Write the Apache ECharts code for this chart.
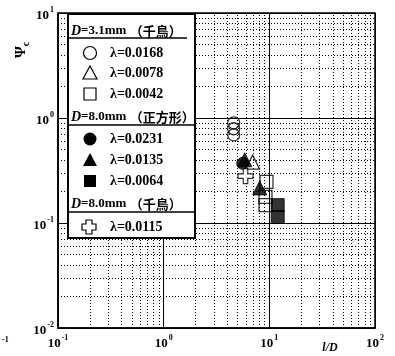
<!DOCTYPE html>
<html><head><meta charset="utf-8">
<script src="https://cdn.jsdelivr.net/npm/echarts@6/dist/echarts.min.js"></script>
<style>html,body{margin:0;padding:0;background:#fff}#c{width:395px;height:356px}</style>
</head><body><div id="c"></div>
<script>
// Data (l/D, Psi_c)
const d31_l0168_x = [4.6, 4.6, 4.6];
const d31_l0168_y = [0.90, 0.79, 0.69];
const d31_l0078_x = [6.95];
const d31_l0078_y = [0.38];
const d31_l0042_x = [9.4, 9.2, 9.2];
const d31_l0042_y = [0.246, 0.177, 0.148];
const d80s_l0231_x = [5.6];
const d80s_l0231_y = [0.37];
const d80s_l0135_x = [5.85, 8.1];
const d80s_l0135_y = [0.40, 0.216];
const d80s_l0064_x = [12.0, 12.0];
const d80s_l0064_y = [0.148, 0.114];
const d80z_l0115_x = [5.95];
const d80z_l0115_y = [0.28];
// minor grid positions
const xMinor = [0.2,0.3,0.4,0.5,0.6,0.7,0.8,0.9, 2,3,4,5,6,7,8,9, 20,30,40,50,60,70,80,90];
const yMinor = [0.02,0.03,0.04,0.05,0.06,0.07,0.08,0.09, 0.2,0.3,0.4,0.5,0.6,0.7,0.8,0.9, 2,3,4,5,6,7,8,9];
const legendLambda = ['λ=0.0168','λ=0.0078','λ=0.0042','λ=0.0231','λ=0.0135','λ=0.0064','λ=0.0115'];
const legendHeaders = ['=3.1mm ','=8.0mm ','=8.0mm '];
const legendGroups = ['（千鳥）','（正方形）','（千鳥）'];

function pts(xs, ys){ return xs.map((x,i)=>[x, ys[i]]); }
const SERIF = '"Liberation Serif","DejaVu Serif",serif';
const CJK = '"Noto Sans CJK JP","Noto Sans CJK SC",sans-serif';
const plusPath = 'path://M3.5,0 H6.5 V3.5 H10 V6.5 H6.5 V10 H3.5 V6.5 H0 V3.5 H3.5 Z';

const rich = {
  b:{fontFamily:SERIF, fontWeight:'bold', fontSize:13, color:'#000', verticalAlign:'bottom', lineHeight:18},
  s:{fontFamily:SERIF, fontWeight:'bold', fontSize:8, color:'#000', verticalAlign:'bottom', lineHeight:18, padding:[0,0,8,1]}
};
function fmt(v){ const e = Math.round(Math.log10(v)); return '{b|10}{s|' + e + '}'; }

const hollow = {color:'rgba(0,0,0,0)', borderColor:'#000', borderWidth:1.3};
const solid = {color:'#000', borderColor:'#000', borderWidth:1};

const series = [
  {type:'scatter', name:'c0168', symbol:'circle', symbolSize:12, itemStyle:hollow, data:pts(d31_l0168_x,d31_l0168_y), z:3},
  {type:'scatter', name:'t0078', symbol:'triangle', symbolSize:14, itemStyle:hollow, data:pts(d31_l0078_x,d31_l0078_y), z:3},
  {type:'scatter', name:'s0042', symbol:'rect', symbolSize:13, itemStyle:hollow, data:pts(d31_l0042_x,d31_l0042_y), z:3},
  {type:'scatter', name:'c0231', symbol:'circle', symbolSize:12, itemStyle:solid, data:pts(d80s_l0231_x,d80s_l0231_y), z:4},
  {type:'scatter', name:'t0135', symbol:'triangle', symbolSize:14, itemStyle:solid, data:pts(d80s_l0135_x,d80s_l0135_y), z:4},
  {type:'scatter', name:'s0064', symbol:'rect', symbolSize:13, itemStyle:solid, data:pts(d80s_l0064_x,d80s_l0064_y), z:4},
  {type:'scatter', name:'p0115', symbol:plusPath, symbolSize:15, itemStyle:{color:'#fff', borderColor:'#000', borderWidth:1.2}, data:pts(d80z_l0115_x,d80z_l0115_y), z:5},
  {type:'line', name:'grid', data:[], silent:true, z:1,
   markLine:{silent:true, symbol:['none','none'], label:{show:false}, animation:false,
     lineStyle:{color:'#000', width:1, type:[1,2]},
     data: xMinor.map(v=>({xAxis:v})).concat(yMinor.map(v=>({yAxis:v})))}}
];

// legend graphics
const LX = 68, LR = 195, LT = 14, LB = 238;
const g = [];
g.push({type:'rect', shape:{x:LX, y:LT, width:LR-LX, height:LB-LT}, style:{fill:'#fff', stroke:'#000', lineWidth:2}, z:100});
function header(y, i){
  g.push({type:'text', x:LX+3, y:y, z:101, style:{text:'{i|D}{n|'+legendHeaders[i]+'}{c|'+legendGroups[i]+'}', verticalAlign:'middle',
    rich:{i:{fontFamily:SERIF, fontStyle:'italic', fontWeight:'bold', fontSize:14, fill:'#000'},
          n:{fontFamily:SERIF, fontWeight:'bold', fontSize:13, fill:'#000'},
          c:{fontFamily:CJK, fontWeight:'bold', fontSize:13, fill:'#000'}}}});
}
function uline(y, x2){ g.push({type:'line', z:101, shape:{x1:LX, y1:y, x2:x2, y2:y}, style:{stroke:'#000', lineWidth:1.5}}); }
function entry(y, i, sym){
  g.push(Object.assign({z:101, x:0, y:0}, sym));
  g.push({type:'text', x:110, y:y, z:101, style:{text:legendLambda[i], verticalAlign:'middle', fill:'#000', font:'bold 14px '+SERIF}});
}
header(31, 0); uline(38, 187);
entry(53, 0, {type:'circle', shape:{cx:90, cy:53, r:6.5}, style:{fill:'#fff', stroke:'#000', lineWidth:1.2}});
entry(73, 1, {type:'polygon', shape:{points:[[90,66],[97,79],[83,79]]}, style:{fill:'#fff', stroke:'#000', lineWidth:1.2}});
entry(94, 2, {type:'rect', shape:{x:84, y:88, width:12, height:12}, style:{fill:'#fff', stroke:'#000', lineWidth:1.2}});
header(117, 1); uline(125, LR);
entry(139, 3, {type:'circle', shape:{cx:90, cy:139, r:6.5}, style:{fill:'#000'}});
entry(160, 4, {type:'polygon', shape:{points:[[90,153],[97,166],[83,166]]}, style:{fill:'#000'}});
entry(181, 5, {type:'rect', shape:{x:84, y:175, width:12, height:12}, style:{fill:'#000'}});
header(204, 2); uline(212, LR);
entry(227, 6, {type:'polygon', shape:{points:[[86,220],[92,220],[92,224],[96,224],[96,230],[92,230],[92,234],[86,234],[86,230],[82,230],[82,224],[86,224]]}, style:{fill:'#fff', stroke:'#000', lineWidth:1.2}});

// axis names
g.push({type:'text', x:21, y:50, rotation:Math.PI/2, z:101, style:{text:'{p|Ψ}{c|c}', align:'center', verticalAlign:'middle',
  rich:{p:{fontFamily:SERIF, fontWeight:'bold', fontSize:15, fill:'#000'}, c:{fontFamily:SERIF, fontWeight:'bold', fontSize:10, fill:'#000', padding:[10,0,0,0]}}}});
g.push({type:'text', x:330, y:348, z:101, style:{text:'l/D', align:'center', verticalAlign:'middle', fill:'#000', font:'italic bold 12px '+SERIF}});
g.push({type:'text', x:2, y:340, z:101, style:{text:'-1', fill:'#000', font:'bold 8px '+SERIF, verticalAlign:'middle'}});

const option = {
  animation:false,
  backgroundColor:'#fff',
  grid:{left:58, top:13, width:317, height:315, show:true, borderColor:'#000', borderWidth:1.5, backgroundColor:'#fff'},
  xAxis:{type:'log', logBase:10, min:0.1, max:100,
    axisLine:{lineStyle:{color:'#000', width:1.5}}, axisTick:{show:false},
    splitLine:{show:true, lineStyle:{color:'#000', width:1}},
    axisLabel:{formatter:fmt, rich:rich, margin:4, color:'#000'}},
  yAxis:{type:'log', logBase:10, min:0.01, max:10,
    axisLine:{lineStyle:{color:'#000', width:1.5}}, axisTick:{show:false},
    splitLine:{show:true, lineStyle:{color:'#000', width:1}},
    axisLabel:{formatter:fmt, rich:rich, margin:4, color:'#000'}},
  series:series,
  graphic:g
};
const chart = echarts.init(document.getElementById('c'), null, {renderer:'canvas'});
chart.setOption(option);
</script></body></html>
